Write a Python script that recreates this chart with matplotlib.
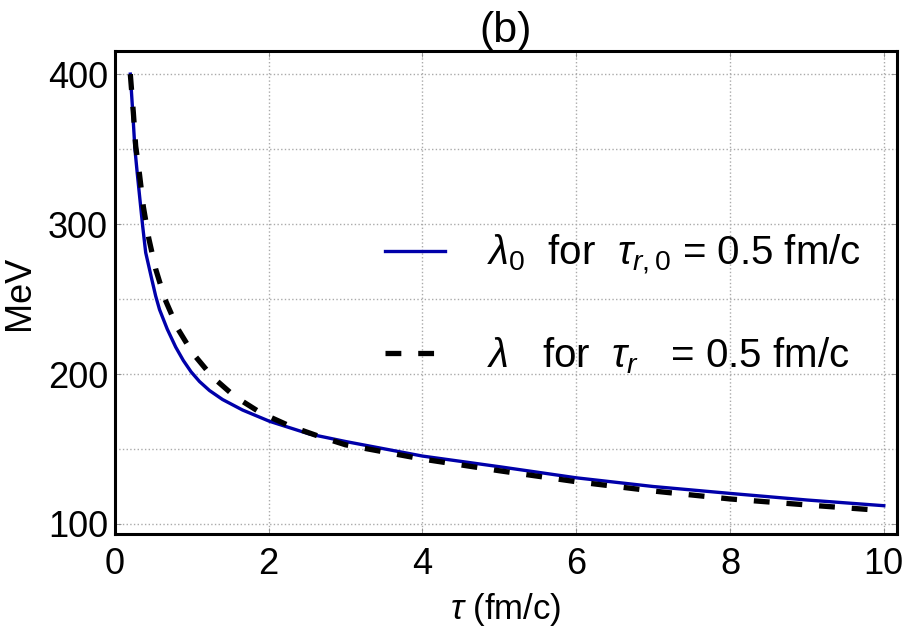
import matplotlib
matplotlib.use("Agg")
import matplotlib.pyplot as plt
from matplotlib.ticker import MultipleLocator

plt.rcParams['font.family'] = ['Liberation Sans', 'DejaVu Sans']
plt.rcParams['mathtext.fontset'] = 'custom'
plt.rcParams['mathtext.rm'] = 'Liberation Sans'
plt.rcParams['mathtext.it'] = 'Liberation Sans:italic'
plt.rcParams['mathtext.bf'] = 'Liberation Sans:bold'

# Data
tau_lambda0 = [0.2, 0.23, 0.26, 0.29, 0.33, 0.36, 0.40, 0.48, 0.53, 0.58, 0.68, 0.79,
               0.89, 0.99, 1.1, 1.23, 1.4, 1.66, 2.01, 2.53, 3.0, 4.0, 5.0, 6.0, 7.0,
               8.0, 9.0, 10.0]
lambda0 = [400, 376, 350, 334, 314, 299, 281, 263, 252, 243, 230, 218,
           209, 201.5, 195, 189, 183, 176, 168.5, 160, 155, 145.3, 138.2, 130.8, 125,
           120.4, 116, 112.2]

tau_lambda = [0.2, 0.24, 0.27, 0.32, 0.37, 0.44, 0.53, 0.65, 0.82, 1.01, 1.27, 1.56,
              1.9, 2.29, 2.68, 3.0, 4.0, 5.0, 6.0, 7.0, 8.0, 9.0, 10.0]
lam = [400, 374, 352, 333, 311.5, 290.5, 270, 250, 230, 214, 198, 185,
       174, 165, 158, 152.8, 143.3, 135.5, 128.2, 122, 116.7, 112.7, 108.9]

label_lambda0 = r"$\lambda_0$  for  $\tau_{r,0}$ = 0.5 fm/c"
label_lambda = r"$\lambda$   for  $\tau_r$   = 0.5 fm/c"
xticks = [0, 2, 4, 6, 8, 10]
yticks = [100, 200, 300, 400]

fig = plt.figure(figsize=(9.05, 6.32), dpi=100)
ax = fig.add_axes([0.127, 0.155, 0.864, 0.764])

ax.plot(tau_lambda0, lambda0, color='#0000AA', lw=2.4, label=label_lambda0, zorder=3)
ax.plot(tau_lambda, lam, color='black', lw=3.8, dashes=(3.0, 3.2), label=label_lambda, zorder=4)

ax.set_xlim(0, 10.17)
ax.set_ylim(93.3, 415.3)
ax.set_xticks(xticks)
ax.set_yticks(yticks)
ax.yaxis.set_minor_locator(MultipleLocator(50))

ax.grid(True, which='major', linestyle=':', color='#aaaaaa', lw=1.0)
ax.grid(True, which='minor', axis='y', linestyle=':', color='#aaaaaa', lw=1.0)

for s in ax.spines.values():
    s.set_linewidth(2.2)
    s.set_color('black')

ax.tick_params(which='both', direction='in', top=True, right=True, length=4,
               width=0.6, color='#888888', labelsize=26, pad=5)
ax.tick_params(axis='x', pad=9)
ax.tick_params(which='minor', length=0)

ax.set_xlabel(r"$\tau$ (fm/c)", fontsize=25, labelpad=7)
ax.set_ylabel("MeV", fontsize=26, labelpad=8)
ax.set_title("(b)", fontsize=31, pad=2)

leg = ax.legend(loc='center left', bbox_to_anchor=(0.345, 0.476), frameon=False,
                fontsize=29, handlelength=1.5, handletextpad=1.05, labelspacing=1.45,
                borderaxespad=0, borderpad=0)

fig.savefig("out.png", dpi=100)
